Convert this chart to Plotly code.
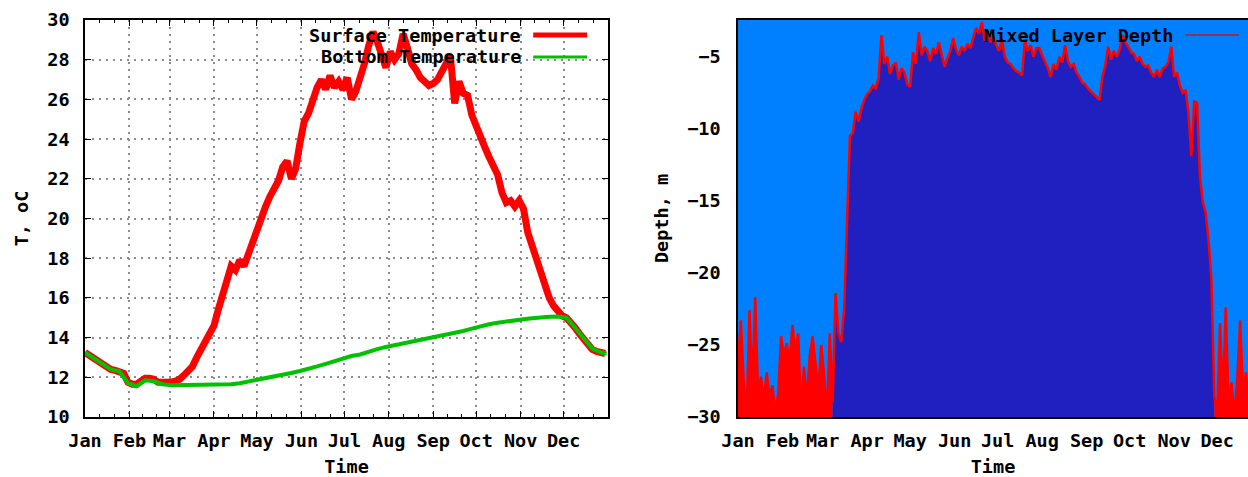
import plotly.graph_objects as go

# ---- data -------------------------------------------------------------
month_names = ["Jan", "Feb", "Mar", "Apr", "May", "Jun",
               "Jul", "Aug", "Sep", "Oct", "Nov", "Dec"]
month_start_day = [0, 31, 59, 90, 120, 151, 181, 212, 243, 273, 304, 334]

# surface temperature, sampled every 3 days (day of year)
surface_days = list(range(0, 364, 3))
surface_temp = [
    13.25, 13.1, 12.95, 12.8, 12.65, 12.55, 12.4, 12.35, 12.3, 12.2,
    11.75, 11.65, 11.65, 11.8, 11.95, 11.95, 11.9, 11.75, 11.75, 11.7,
    11.75, 11.8, 11.9, 12.1, 12.35, 12.55, 13.0, 13.4, 13.7, 14.2,
    14.6, 15.4, 16.2, 17.0, 17.6, 17.4, 17.9, 17.6, 18.2, 18.8,
    19.5, 20.2, 20.6, 21.1, 21.5, 21.9, 22.6, 22.9, 22.0, 22.5,
    23.8, 24.9, 25.3, 26.0, 26.6, 27.0, 26.5, 27.2, 26.6, 26.9,
    26.5, 27.1, 26.0, 26.4, 27.0, 27.8, 28.7, 29.4, 28.9, 28.2,
    27.6, 28.4, 28.0, 28.3, 29.3, 28.6, 27.8, 27.5, 27.1, 26.9,
    26.7, 26.8, 27.0, 27.4, 27.9, 28.2, 25.8, 26.9, 26.3, 26.2,
    25.2, 24.6, 24.1, 23.6, 23.1, 22.6, 22.2, 21.3, 20.8, 20.9,
    20.6, 20.9, 20.5, 19.3, 18.6, 17.9, 17.2, 16.7, 16.0, 15.6,
    15.3, 15.1, 15.0, 14.8, 14.5, 14.2, 13.9, 13.6, 13.4, 13.3,
    13.25, 13.2,
]

# bottom temperature, sampled every 6 days
bottom_days = list(range(0, 361, 6)) + [364]
bottom_temp = [
    13.25, 12.95, 12.65, 12.4, 12.3, 11.7, 11.55, 11.85, 11.8, 11.65,
    11.6, 11.6, 11.6, 11.6, 11.62, 11.62, 11.63, 11.65, 11.7, 11.78,
    11.85, 11.93, 12.02, 12.12, 12.22, 12.32, 12.42, 12.55, 12.68, 12.82,
    12.97, 13.07, 13.15, 13.3, 13.42, 13.53, 13.62, 13.72, 13.8, 13.9,
    13.97, 14.03, 14.12, 14.22, 14.33, 14.45, 14.58, 14.67, 14.75, 14.82,
    14.88, 14.92, 14.97, 15.02, 15.05, 15.06, 15.0, 14.5, 13.95, 13.45,
    13.25, 13.2,
]

# mixed layer depth (m, negative downward), sampled every 2 days
mld_days = list(range(0, 365, 2))
mld_depth = [
    -26.3, -23.3, -27.5, -29.9, -22.6, -27.8, -21.7, -28.5, -27.2, -28.8,
    -26.9, -28.6, -27.8, -29.7, -28.4, -24.4, -25.6, -24.9, -26.1, -23.6,
    -25.4, -24.2, -29.8, -26.5, -28.9, -25.7, -24.4, -26.2, -28.1, -25.0,
    -27.0, -29.9, -24.2, -29.0, -21.4, -24.2, -24.8, -22.5, -17.0, -10.5,
    -10.3, -8.8, -9.5, -8.6, -8.0, -7.6, -7.4, -7.0, -7.2, -6.5,
    -3.5, -5.5, -5.0, -6.2, -5.6, -5.4, -6.6, -5.8, -6.1, -6.9,
    -7.1, -4.7, -5.5, -3.3, -4.9, -4.3, -4.6, -5.3, -4.4, -4.8,
    -4.0, -4.9, -5.7, -5.1, -4.6, -3.7, -4.5, -4.9, -4.3, -4.6,
    -4.1, -4.4, -3.6, -3.0, -3.4, -2.6, -3.9, -3.2, -4.0, -3.6,
    -4.2, -4.6, -3.8, -5.0, -5.4, -5.5, -5.8, -6.0, -6.1, -6.3,
    -3.8, -4.6, -4.2, -5.0, -4.4, -4.4, -4.9, -5.3, -5.8, -6.4,
    -5.5, -5.9, -5.0, -5.4, -4.2, -5.3, -5.7, -5.5, -6.1, -6.4,
    -6.8, -6.9, -7.2, -7.4, -7.6, -7.8, -8.0, -6.4, -5.6, -4.3,
    -5.2, -4.6, -5.0, -4.5, -3.5, -4.0, -4.3, -4.7, -4.8, -5.3,
    -5.0, -5.5, -5.7, -5.6, -6.1, -6.4, -5.9, -6.4, -5.8, -5.7,
    -5.4, -4.3, -6.4, -6.1, -7.0, -7.5, -7.3, -8.9, -11.9, -8.1,
    -8.2, -13.3, -15.1, -15.8, -17.7, -20.5, -28.5, -29.9, -23.5, -28.6,
    -22.4, -29.2, -27.6, -29.9, -27.4, -23.3, -28.2, -26.9, -29.1, -27.0,
    -28.4, -26.6, -27.8,
]
# stratified season (dark fill below the mixed layer)
strat_first_day, strat_last_day = 66, 332

# ---- styling ----------------------------------------------------------
FONT = dict(family="DejaVu Sans Mono", size=18.5, color="black", weight="bold")
RED = "#ff0000"
GREEN = "#00c000"
SKY = "#0080ff"
DEEP = "#2020c0"
GRID_DASH = "2px,5px"
GRID_COLOR = "#8c8c8c"

W, H = 1248, 477
top_px, bottom_px = 20, 417
ydom = [(H - bottom_px) / H, (H - top_px) / H]
left_dom = [85 / W, 608 / W]
right_dom = [738 / W, 1.0]

# minor x ticks: thirds of each month
month_edges = month_start_day + [365]
minor_days = []
for a, b in zip(month_edges[:-1], month_edges[1:]):
    minor_days += [a + (b - a) / 3, a + 2 * (b - a) / 3]

fig = go.Figure()

# left panel: temperatures
fig.add_trace(go.Scatter(x=surface_days, y=surface_temp, mode="lines",
                         line=dict(color=RED, width=7), xaxis="x", yaxis="y",
                         name="Surface Temperature", showlegend=False))
fig.add_trace(go.Scatter(x=bottom_days, y=bottom_temp, mode="lines",
                         line=dict(color=GREEN, width=4), xaxis="x", yaxis="y",
                         name="Bottom Temperature", showlegend=False))

# right panel: mixed layer depth
def polygon(lo, hi):
    xs, ys = [], []
    for d, v in zip(mld_days, mld_depth):
        if lo <= d <= hi:
            xs.append(d)
            ys.append(v)
    return [xs[0]] + xs + [xs[-1]], [-30] + ys + [-30]

for lo, hi, col in [(0, strat_first_day, RED),
                    (strat_first_day, strat_last_day, DEEP),
                    (strat_last_day, 364, RED)]:
    px_, py_ = polygon(lo, hi)
    fig.add_trace(go.Scatter(x=px_, y=py_, mode="lines", fill="toself",
                             fillcolor=col, line=dict(width=0, color=col),
                             xaxis="x2", yaxis="y2", showlegend=False,
                             hoverinfo="skip"))
fig.add_trace(go.Scatter(x=mld_days, y=mld_depth, mode="lines",
                         line=dict(color=RED, width=2.5), xaxis="x2", yaxis="y2",
                         name="Mixed Layer Depth", showlegend=False))

common_x = dict(tickmode="array", tickvals=month_start_day, ticktext=month_names,
                tickfont=FONT, showline=True, linecolor="black", linewidth=1.5,
                mirror="ticks", zeroline=False, automargin=False,
                title=dict(text="Time", font=FONT, standoff=10))

fig.update_layout(
    width=W, height=H, margin=dict(l=0, r=0, t=0, b=0),
    paper_bgcolor="white", plot_bgcolor="white", showlegend=False,
    xaxis=dict(domain=left_dom, range=[0, 365], anchor="y",
               ticks="inside", ticklen=6, tickcolor="black",
               showgrid=True, gridcolor=GRID_COLOR, griddash=GRID_DASH, gridwidth=1.5,
               minor=dict(tickmode="array", tickvals=minor_days, ticks="inside",
                          ticklen=3, tickcolor="black", showgrid=False),
               ticklabelstandoff=6, **common_x),
    yaxis=dict(domain=ydom, range=[10, 30], anchor="x", tickmode="array",
               tickvals=list(range(10, 31, 2)), tickfont=FONT,
               ticks="inside", ticklen=6, tickcolor="black",
               showgrid=True, gridcolor=GRID_COLOR, griddash=GRID_DASH, gridwidth=1.5,
               showline=True, linecolor="black", linewidth=1.5, mirror="ticks",
               zeroline=False, ticklabelstandoff=10, automargin=False,
               title=dict(text="T, oC", font=FONT, standoff=14)),
    xaxis2=dict(domain=right_dom, range=[0, 355.5], anchor="y2",
                ticks="", showgrid=False, ticklabelstandoff=6, **common_x),
    yaxis2=dict(domain=ydom, range=[-30, -2.45], anchor="x2", tickmode="array",
                tickvals=[-30, -25, -20, -15, -10, -5], tickfont=FONT,
                ticks="", showgrid=False, showline=True, linecolor="black",
                linewidth=1.5, mirror=True, zeroline=False,
                ticklabelstandoff=12, automargin=False,
                title=dict(text="Depth, m", font=FONT, standoff=14)),
)

# sky-blue panel background for the depth plot
fig.add_shape(type="rect", xref="x2 domain", yref="y2 domain",
              x0=0, x1=1, y0=0, y1=1, fillcolor=SKY, line=dict(width=0),
              layer="below")

# key entries: label followed by a line sample
def key(xref, yref, label, x_text, x0, x1, y, color, width):
    fig.add_annotation(xref=xref, yref=yref, x=x_text, y=y, text=label,
                       showarrow=False, xanchor="right", yanchor="middle",
                       font=FONT)
    fig.add_shape(type="line", xref=xref, yref=yref, x0=x0, x1=x1, y0=y, y1=y,
                  line=dict(color=color, width=width))

key("x domain", "y domain", "Surface Temperature", 0.837, 0.857, 0.96, 0.962, RED, 5)
key("x domain", "y domain", "Bottom Temperature", 0.837, 0.857, 0.96, 0.907, GREEN, 3)
key("x2 domain", "y2 domain", "Mixed Layer Depth", 0.857, 0.878, 0.982, 0.962, "#c8102e", 1.5)

fig.write_html("out.html")
